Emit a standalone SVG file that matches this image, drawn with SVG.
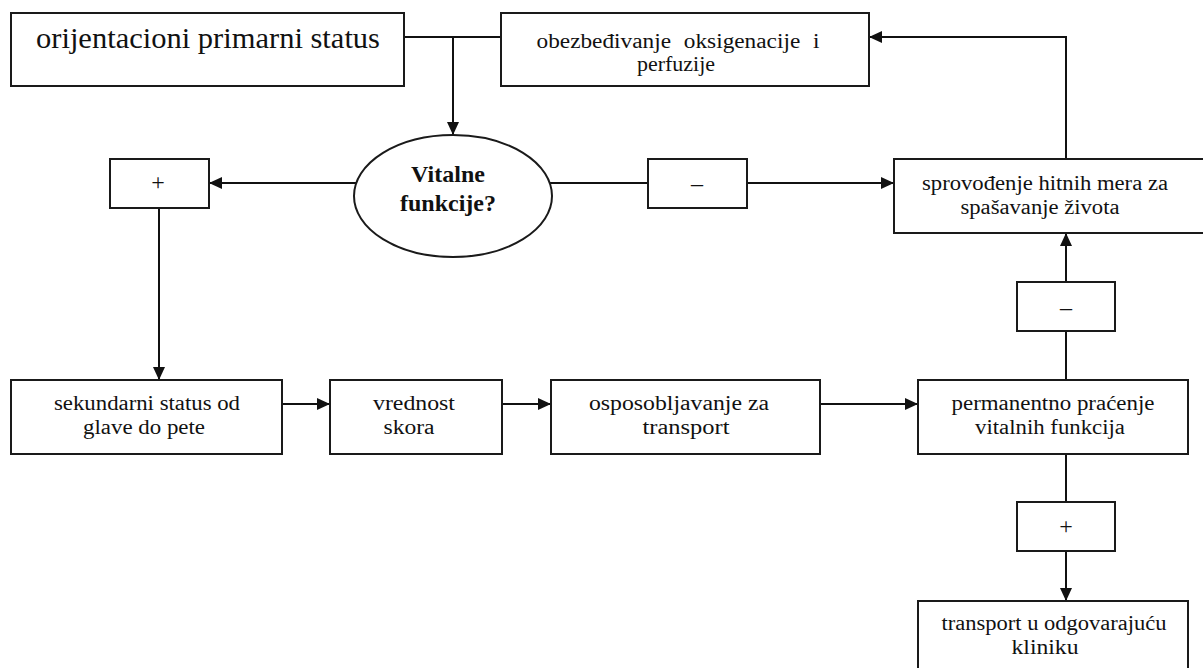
<svg xmlns="http://www.w3.org/2000/svg" width="1203" height="668" viewBox="0 0 1203 668">
<style>
.box{fill:#fff;stroke:#1a1a1a;stroke-width:2}
.t{font-family:"Liberation Serif","Times New Roman",serif;font-size:20px;fill:#111;text-anchor:middle}
.big{font-size:30px}
.b{font-weight:bold;font-size:24px}
.sym{font-size:24px}
.ln{fill:none;stroke:#111;stroke-width:2}
</style>
<defs>
<marker id="ah" markerUnits="userSpaceOnUse" markerWidth="14" markerHeight="12" refX="13" refY="6" orient="auto">
<path d="M0,0 L13,6 L0,12 z" fill="#111"/>
</marker>
</defs>
<rect width="1203" height="668" fill="#fff"/>
<g id="connectors">
<path class="ln" d="M404,37 H501"/>
<path class="ln" d="M453,37 V135" marker-end="url(#ah)"/>
<path class="ln" d="M356,183 H209" marker-end="url(#ah)"/>
<path class="ln" d="M159,208 V380" marker-end="url(#ah)"/>
<path class="ln" d="M550,183 H648"/>
<path class="ln" d="M747,183 H894" marker-end="url(#ah)"/>
<path class="ln" d="M1066,159 V37 H869" marker-end="url(#ah)"/>
<path class="ln" d="M1066,282 V233" marker-end="url(#ah)"/>
<path class="ln" d="M1066,380 V331"/>
<path class="ln" d="M1066,453 V502"/>
<path class="ln" d="M1066,551 V601" marker-end="url(#ah)"/>
<path class="ln" d="M282,404 H330" marker-end="url(#ah)"/>
<path class="ln" d="M502,404 H551" marker-end="url(#ah)"/>
<path class="ln" d="M820,404 H918" marker-end="url(#ah)"/>
</g>
<g id="n-primarni">
<rect class="box" x="11" y="13" width="393" height="73"/>
<text class="t big" x="208" y="48" textLength="344" lengthAdjust="spacingAndGlyphs">orijentacioni primarni status</text>
</g>
<g id="n-oksigenacija">
<rect class="box" x="501" y="13" width="368" height="73"/>
<text class="t" x="678" y="48" textLength="283" lengthAdjust="spacingAndGlyphs" word-spacing="6">obezbeđivanje oksigenacije i</text>
<text class="t" x="676" y="71" textLength="78" lengthAdjust="spacingAndGlyphs">perfuzije</text>
</g>
<g id="n-vitalne">
<ellipse cx="453" cy="196" rx="99" ry="61" fill="#fff" stroke="#1a1a1a" stroke-width="2"/>
<text class="t b" x="448" y="182">Vitalne</text>
<text class="t b" x="448" y="211">funkcije?</text>
</g>
<g id="n-plus1">
<rect class="box" x="110" y="159" width="99" height="49"/>
<text class="t sym" x="158" y="190">+</text>
</g>
<g id="n-minus1">
<rect class="box" x="648" y="159" width="99" height="49"/>
<text class="t sym" x="697" y="191">–</text>
</g>
<g id="n-hitne">
<rect class="box" x="894" y="159" width="312" height="74"/>
<text class="t" x="1045" y="190" textLength="246" lengthAdjust="spacingAndGlyphs">sprovođenje hitnih mera za</text>
<text class="t" x="1040" y="214" textLength="159" lengthAdjust="spacingAndGlyphs">spašavanje života</text>
</g>
<g id="n-minus2">
<rect class="box" x="1017" y="282" width="98" height="49"/>
<text class="t sym" x="1066" y="315">–</text>
</g>
<g id="n-sekundarni">
<rect class="box" x="11" y="380" width="271" height="74"/>
<text class="t" x="147" y="410" textLength="186" lengthAdjust="spacingAndGlyphs">sekundarni status od</text>
<text class="t" x="144" y="434" textLength="122" lengthAdjust="spacingAndGlyphs">glave do pete</text>
</g>
<g id="n-skor">
<rect class="box" x="330" y="380" width="172" height="74"/>
<text class="t" x="414" y="410" textLength="82" lengthAdjust="spacingAndGlyphs">vrednost</text>
<text class="t" x="409" y="434" textLength="51" lengthAdjust="spacingAndGlyphs">skora</text>
</g>
<g id="n-osposobljavanje">
<rect class="box" x="551" y="380" width="269" height="74"/>
<text class="t" x="679" y="410" textLength="180" lengthAdjust="spacingAndGlyphs">osposobljavanje za</text>
<text class="t" x="686" y="434" textLength="87" lengthAdjust="spacingAndGlyphs">transport</text>
</g>
<g id="n-pracenje">
<rect class="box" x="918" y="380" width="270" height="74"/>
<text class="t" x="1053" y="410" textLength="203" lengthAdjust="spacingAndGlyphs">permanentno praćenje</text>
<text class="t" x="1050" y="434" textLength="150" lengthAdjust="spacingAndGlyphs">vitalnih funkcija</text>
</g>
<g id="n-plus2">
<rect class="box" x="1017" y="502" width="98" height="49"/>
<text class="t sym" x="1066" y="534">+</text>
</g>
<g id="n-transport">
<rect class="box" x="918" y="601" width="270" height="80"/>
<text class="t" x="1054" y="630" textLength="225" lengthAdjust="spacingAndGlyphs">transport u odgovarajuću</text>
<text class="t" x="1045" y="654" textLength="67" lengthAdjust="spacingAndGlyphs">kliniku</text>
</g>
</svg>
